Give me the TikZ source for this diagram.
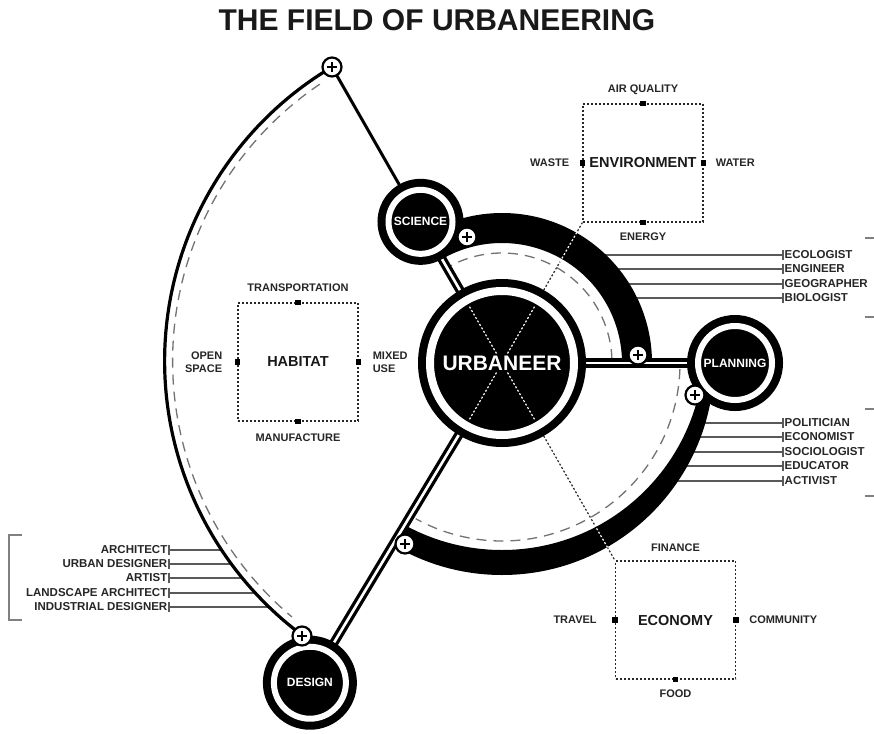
\documentclass[tikz,border=0pt]{standalone}
\usepackage{fontspec}
\setmainfont{Liberation Sans}
\usetikzlibrary{calc}
\newcommand*{\xMin}{0}
\newcommand*{\xMax}{874}
\newcommand*{\yMin}{0}
\newcommand*{\yMax}{733}
\tikzset{
	lbl/.style={font=\fontsize{11}{13}\selectfont\bfseries,text=black!85,inner sep=1pt},
	rolelbl/.style={font=\fontsize{11.5}{13}\selectfont\bfseries,text=black!85,inner sep=1.5pt},
	dotbox/.style={draw=black!85,line width=1.2pt,dash pattern=on 2pt off 2pt,minimum width=120pt,minimum height=118pt,inner sep=0pt,font=\fontsize{14.5}{16}\selectfont\bfseries,text=black!90},
	boxmark/.style={fill=black,minimum size=5.5pt,inner sep=0pt},
	dotline/.style={line width=1.2pt,dash pattern=on 2pt off 2pt},
	hub/.style={circle,fill=black,draw=black,double=white,line width=8pt,inner sep=0pt,text=white,font=\fontsize{12}{14}\selectfont\bfseries},
	link/.style={draw=black,double=white,double distance=2.6pt,line width=3.3pt},
	roleline/.style={draw=black!65,line width=1.3pt},
	bracket/.style={draw=black!50,line width=1.3pt},
	dashedarc/.style={draw=black!55,line width=1.3pt,dash pattern=on 10pt off 7pt},
	plusmark/.style={circle,draw=black,fill=white,line width=2.2pt,minimum size=19pt,inner sep=0pt,
		path picture={\draw[line width=1.5pt,black] ($(path picture bounding box.center)+(-5pt,0pt)$) -- ($(path picture bounding box.center)+(5pt,0pt)$)
			($(path picture bounding box.center)+(0pt,-5pt)$) -- ($(path picture bounding box.center)+(0pt,5pt)$);}},
}
\begin{document}
\begin{tikzpicture}[x=1pt,y=-1pt]
	\path[use as bounding box,fill=white] (\xMin,\yMin) rectangle (\xMax,\yMax);
	\node[font=\fontsize{30}{32}\selectfont\bfseries,text=black!90] (title) at (437,20) {THE FIELD OF URBANEERING};
	%
	\coordinate (urbc) at (502,363);
	\coordinate (scic) at ($(urbc)+(-120:163)$);
	\coordinate (planc) at (735,363);
	\coordinate (desc) at ($(urbc)+(-239:373)$);
	\coordinate (ptop) at (332,67);
	\coordinate (psci) at (467,237);
	\coordinate (pplanA) at (638,355);
	\coordinate (pplanB) at (695,395);
	\coordinate (pdesA) at (405,544);
	\coordinate (pdesB) at (302,636);
	\coordinate (arcc) at ($(ptop)+(59.3:342)$);
	%
	% the three dotted boxes
	\node[dotbox] (habitat) at (298,362) {HABITAT};
	\node[dotbox] (env) at (643,163) {ENVIRONMENT};
	\node[dotbox] (econ) at (675.5,620) {ECONOMY};
	\foreach \a in {north,south,west,east} {
		\node[boxmark] at (habitat.\a) {};
		\node[boxmark] at (env.\a) {};
	}
	\foreach \a in {south,west,east}
		\node[boxmark] at (econ.\a) {};
	\node[lbl] (transp) at ($(habitat.north)+(0,-15)$) {TRANSPORTATION};
	\node[lbl] (manuf) at ($(habitat.south)+(0,16)$) {MANUFACTURE};
	\node[lbl,anchor=east,align=right] (open) at ($(habitat.west)+(-14,0)$) {OPEN\\SPACE};
	\node[lbl,anchor=west,align=left] (mixed) at ($(habitat.east)+(13,0)$) {MIXED\\USE};
	\node[lbl] (air) at ($(env.north)+(0,-14)$) {AIR QUALITY};
	\node[lbl] (energy) at ($(env.south)+(0,14)$) {ENERGY};
	\node[lbl,anchor=east] (waste) at ($(env.west)+(-12,0)$) {WASTE};
	\node[lbl,anchor=west] (water) at ($(env.east)+(11,0)$) {WATER};
	\node[lbl] (finance) at ($(econ.north)+(0,-13)$) {FINANCE};
	\node[lbl] (food) at ($(econ.south)+(0,14)$) {FOOD};
	\node[lbl,anchor=east] (travel) at ($(econ.west)+(-17,0)$) {TRAVEL};
	\node[lbl,anchor=west] (commun) at ($(econ.east)+(12,0)$) {COMMUNITY};
	%
	% roles
	\foreach \y/\x/\name [count=\i] in {255/583/ECOLOGIST,269/599/ENGINEER,284/611/GEOGRAPHER,298/620/BIOLOGIST} {
		\node[rolelbl,anchor=west] (sci\i) at (783,\y) {\name};
		\coordinate (scie\i) at (\x,\y);
		\draw[roleline] (scie\i) -- (sci\i.west) +(0,-5) -- +(0,5);
	}
	\foreach \y/\x/\name [count=\i] in {423/697/POLITICIAN,437/692/ECONOMIST,452/685/SOCIOLOGIST,466/677/EDUCATOR,481/666/ACTIVIST} {
		\node[rolelbl,anchor=west] (pla\i) at (783,\y) {\name};
		\coordinate (plae\i) at (\x,\y);
		\draw[roleline] (plae\i) -- (pla\i.west) +(0,-5) -- +(0,5);
	}
	\foreach \y/\x/\name [count=\i] in {550/222/ARCHITECT,564/231/URBAN DESIGNER,578/242/ARTIST,593/255/LANDSCAPE ARCHITECT,607/269/INDUSTRIAL DESIGNER} {
		\node[rolelbl,anchor=east] (des\i) at (169,\y) {\name};
		\coordinate (dese\i) at (\x,\y);
		\draw[roleline] (dese\i) -- (des\i.east) +(0,-5) -- +(0,5);
	}
	\draw[bracket] (22,535) -- (9,535) -- (9,620) -- (22,620);
	\foreach \y in {238,317,409,496}
		\draw[bracket] (865,\y) -- (874,\y);
	%
	\draw[dotline,black!85] (urbc) -- (env.south west);
	\draw[dotline,black!85] (urbc) -- (econ.north west);
	%
	% outer arc
	\draw[line width=3pt] (ptop) -- (scic);
	\draw[line width=3.2pt] (ptop) arc[start angle=-120.7,end angle=-233.5,radius=342];
	\draw[dashedarc] ($(arcc)+(-124:334)$) arc[start angle=-124,end angle=-230,radius=334];
	%
	% black bands
	\fill ($(urbc)+(0:150)$) arc[start angle=0,end angle=-120,radius=150] -- ($(urbc)+(-120:120)$) arc[start angle=-120,end angle=0,radius=120] -- cycle;
	\begin{scope}
		\clip (urbc) -- ($(urbc)+(0:260)$) arc[start angle=0,end angle=121,radius=260] -- cycle;
		\fill[even odd rule] (urbc) circle[radius=212] (502,348) circle[radius=202];
	\end{scope}
	\draw[dotline,white] ($(urbc)!0.72!(env.south west)$) -- ($(urbc)!0.94!(env.south west)$);
	\draw[dotline,white] ($(urbc)!0.82!(econ.north west)$) -- ($(urbc)!0.94!(econ.north west)$);
	\draw[dashedarc] ($(urbc)+(-2:110)$) arc[start angle=-2,end angle=-118,radius=110];
	\draw[dashedarc] ($(urbc)+(2:178)$) arc[start angle=2,end angle=119,radius=178];
	%
	\draw[link] (urbc) -- (scic);
	\draw[link] (urbc) -- (planc);
	\draw[link] (urbc) -- (desc);
	%
	\node[hub,minimum size=144pt,double distance=8pt] (urb) at (urbc) {};
	\node[hub,minimum size=64pt,double distance=6pt] (sci) at (scic) {SCIENCE};
	\node[hub,minimum size=74pt,double distance=6pt] (plan) at (planc) {PLANNING};
	\node[hub,minimum size=72pt,double distance=6pt] (des) at (desc) {DESIGN};
	\draw[dotline,white] ($(urbc)+(-60:65)$) -- ($(urbc)+(120:65)$);
	\draw[dotline,white] ($(urbc)+(-120:65)$) -- ($(urbc)+(60:65)$);
	\node[fill=black,text=white,font=\fontsize{21}{24}\selectfont\bfseries,inner sep=2pt] (urbtxt) at (urbc) {URBANEER};
	%
	\foreach \p in {ptop,psci,pplanA,pplanB,pdesA,pdesB}
		\node[plusmark] (n\p) at (\p) {};
\end{tikzpicture}
\end{document}
